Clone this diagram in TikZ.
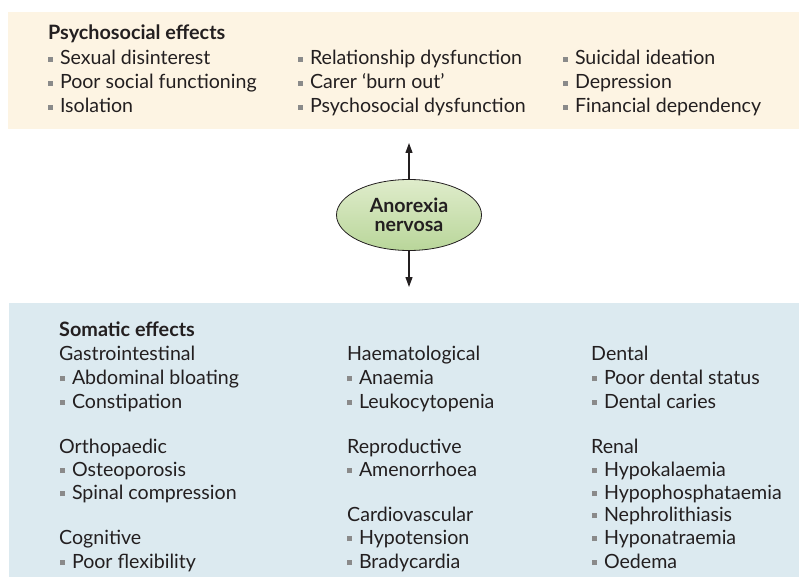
\documentclass[tikz,border=0pt]{standalone}
\usepackage{fontspec}
\setmainfont{Lato}
\usetikzlibrary{arrows.meta,shapes.geometric}
\definecolor{cream}{HTML}{FDF4E3}
\definecolor{paleblue}{HTML}{DCEAF0}
\definecolor{txt}{HTML}{231F20}
\definecolor{bulgray}{HTML}{8A8A8A}
\definecolor{greentop}{HTML}{DFECCB}
\definecolor{greenbot}{HTML}{B9D69A}
\newcommand{\bul}{{\color{bulgray}\rule[2.8pt]{4.8pt}{4.8pt}}\hspace{7pt}}
\tikzset{
  lbl/.style={anchor=base west, inner sep=0pt, text=txt, font=\fontsize{19.6}{22}\selectfont},
  head/.style={lbl, font=\fontsize{19.8}{22}\selectfont\bfseries},
  arr/.style={-{Triangle[length=10pt,width=7pt]}, line width=1.2pt, draw=txt},
}
\begin{document}
\begin{tikzpicture}[x=1pt,y=-1pt]
\useasboundingbox (0,0) rectangle (799,577);
\fill[cream] (8,12) rectangle (799,129);
\fill[paleblue] (9,303) rectangle (799,577);
% top
\node[head] (psy) at (48,39.5) {Psychosocial effects};
\node[lbl] (p11) at (48,64.5) {\bul Sexual disinterest};
\node[lbl] (p12) at (48,88.5) {\bul Poor social functioning};
\node[lbl] (p13) at (48,112.5) {\bul Isolation};
\node[lbl] (p21) at (298,64.5) {\bul Relationship dysfunction};
\node[lbl] (p22) at (298,88.5) {\bul Carer ‘burn out’};
\node[lbl] (p23) at (298,112.5) {\bul Psychosocial dysfunction};
\node[lbl] (p31) at (563,64.5) {\bul Suicidal ideation};
\node[lbl] (p32) at (563,88.5) {\bul Depression};
\node[lbl] (p33) at (563,112.5) {\bul Financial dependency};
% centre
\node[ellipse, draw=txt, line width=0.8pt, top color=greentop, bottom color=greenbot,
      minimum width=145pt, minimum height=71pt, inner sep=0pt, align=center,
      text=txt, font=\fontsize{19.6}{19}\selectfont\bfseries] (an) at (409,215) {Anorexia\\nervosa};
\coordinate (up) at (409,143);
\coordinate (dn) at (409,287);
\draw[arr] (an.north) -- (up);
\draw[arr] (an.south) -- (dn);
% bottom
\node[head] (som) at (59,336) {Somatic effects};
\node[lbl] (gi) at (59,360) {Gastrointestinal};
\node[lbl] (gi1) at (60,384) {\bul Abdominal bloating};
\node[lbl] (gi2) at (60,408) {\bul Constipation};
\node[lbl] (or) at (59,453) {Orthopaedic};
\node[lbl] (or1) at (60,476) {\bul Osteoporosis};
\node[lbl] (or2) at (60,499) {\bul Spinal compression};
\node[lbl] (co) at (59,544) {Cognitive};
\node[lbl] (co1) at (60,568) {\bul Poor flexibility};
\node[lbl] (ha) at (347,360) {Haematological};
\node[lbl] (ha1) at (347,384) {\bul Anaemia};
\node[lbl] (ha2) at (347,408) {\bul Leukocytopenia};
\node[lbl] (re) at (347,453) {Reproductive};
\node[lbl] (re1) at (347,476) {\bul Amenorrhoea};
\node[lbl] (ca) at (347,521) {Cardiovascular};
\node[lbl] (ca1) at (347,544) {\bul Hypotension};
\node[lbl] (ca2) at (347,568) {\bul Bradycardia};
\node[lbl] (de) at (591,360) {Dental};
\node[lbl] (de1) at (592,384) {\bul Poor dental status};
\node[lbl] (de2) at (592,408) {\bul Dental caries};
\node[lbl] (rn) at (591,453) {Renal};
\node[lbl] (rn1) at (592,476) {\bul Hypokalaemia};
\node[lbl] (rn2) at (592,499) {\bul Hypophosphataemia};
\node[lbl] (rn3) at (592,521) {\bul Nephrolithiasis};
\node[lbl] (rn4) at (592,544) {\bul Hyponatraemia};
\node[lbl] (rn5) at (592,568) {\bul Oedema};
\end{tikzpicture}
\end{document}
